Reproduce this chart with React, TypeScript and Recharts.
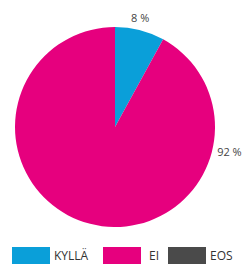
import { Cell, Legend, Pie, PieChart } from 'recharts'

const categories = ['KYLLÄ', 'EI', 'EOS']
const values = [8, 92, 0]
const colors = ['#0a9fd9', '#e6007e', '#4a4a4a']
// where each percentage label sits, degrees clockwise from 12 o'clock
const labelAngles = [13, 102, -1]

const data = categories.map((name, i) => ({ name, value: values[i] }))

const FONT = '"Open Sans", "DejaVu Sans", sans-serif'

function renderLabel(props: any) {
  const { cx, cy, outerRadius, index } = props
  if (values[index] === 0) return null
  const a = (labelAngles[index] * Math.PI) / 180
  const r = outerRadius + (index === 0 ? 12 : 17)
  const x = cx + r * Math.sin(a)
  const y = cy - r * Math.cos(a)
  return (
    <text x={x} y={y} textAnchor="middle" dominantBaseline="central" fontSize={11} fill="#444" fontFamily={FONT}>
      {values[index]} %
    </text>
  )
}

const itemWidths = [91, 65, 70]

function LegendContent() {
  return (
    <div style={{ display: 'flex', alignItems: 'center', fontFamily: FONT, fontSize: 12, color: '#333' }}>
      {categories.map((c, i) => (
        <div key={c} style={{ display: 'flex', alignItems: 'center', width: itemWidths[i] }}>
          <div style={{ width: 38, height: 17, background: colors[i] }} />
          <span style={{ marginLeft: i === 1 ? 8 : 4 }}>{c}</span>
        </div>
      ))}
    </div>
  )
}

export default function App() {
  return (
    <div style={{ position: 'absolute', left: 0, top: 0, width: 251, height: 273, background: '#fff' }}>
      <PieChart width={251} height={273} margin={{ top: 0, right: 0, bottom: 0, left: 0 }}>
        <Pie
          data={data}
          dataKey="value"
          nameKey="name"
          cx={115}
          cy={127}
          outerRadius={100}
          startAngle={90}
          endAngle={-270}
          stroke="none"
          label={renderLabel}
          labelLine={false}
          isAnimationActive={false}
        >
          {data.map((d, i) => (
            <Cell key={d.name} fill={colors[i]} />
          ))}
        </Pie>
        <Legend
          content={<LegendContent />}
          wrapperStyle={{ position: 'absolute', left: 12, top: 247, width: 240 }}
        />
      </PieChart>
    </div>
  )
}
